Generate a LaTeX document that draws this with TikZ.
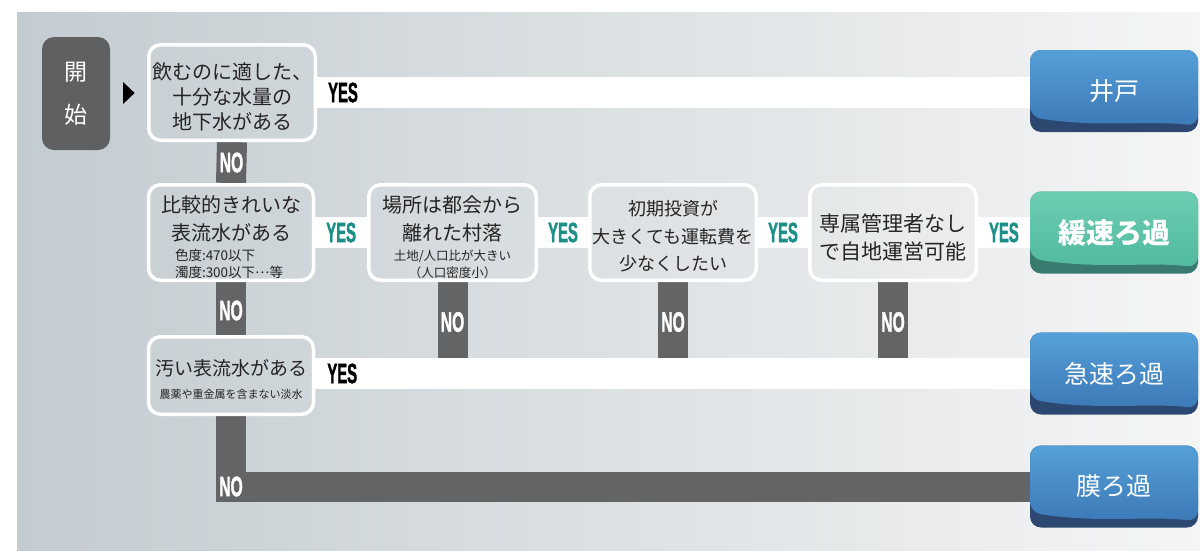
\documentclass[tikz,border=0pt]{standalone}
\usepackage{fontspec}
\usepackage{graphicx}
\setmainfont{Noto Sans CJK JP}
\newfontfamily\latinb{Liberation Sans}[BoldFeatures={FakeBold=2}]
\usetikzlibrary{calc}
\definecolor{txt}{HTML}{262324}
\definecolor{nogray}{HTML}{636466}
\definecolor{yesteal}{HTML}{1B8F88}
\definecolor{panelL}{HTML}{C3CCD1}
\definecolor{panelR}{HTML}{F5F5F5}
\definecolor{startgray}{HTML}{5F6062}
\definecolor{bluetop}{HTML}{55A0D8}
\definecolor{bluebot}{HTML}{3A76B5}
\definecolor{bluedark}{HTML}{2D4870}
\definecolor{greentop}{HTML}{6DCDB3}
\definecolor{greenbot}{HTML}{4FB89D}
\definecolor{greendark}{HTML}{3A7A70}
\newcommand\fs[2]{\fontsize{#1}{#2}\selectfont}
\newcommand\tp{\rule{0pt}{1.3em}}
\newcommand\yeslbl[1]{{\color{#1}\fs{28}{28}\latinb\bfseries\scalebox{0.53}[1]{YES}}}
\newcommand\nolbl{{\color{white}\fs{28}{28}\latinb\bfseries\scalebox{0.56}[1]{NO}}}
\pgfdeclarelayer{back}
\pgfdeclarelayer{bg}
\pgfsetlayers{back,bg,main}
\tikzset{
  q/.style={draw=white, line width=3.5pt, rounded corners=12pt, align=center,
    text=txt, inner sep=0pt},
  startbox/.style={fill=startgray, rounded corners=12pt, minimum width=68pt,
    minimum height=113pt, inner sep=0pt, text=white, align=center,
    font=\fs{23}{43}},
  result/.style={minimum width=168pt, minimum height=82pt, rounded corners=11pt,
    inner sep=0pt, text=white},
  bluebox/.style={result, fill=bluedark, font=\fs{25}{25}, path picture={
    \shade[top color=bluetop, bottom color=bluebot]
      (path picture bounding box.north west)
      -- ($(path picture bounding box.south west)+(0,-15)$)
      .. controls ($(path picture bounding box.south west)+(70,-4)$)
      and ($(path picture bounding box.south east)+(-50,-12)$)
      .. ($(path picture bounding box.south east)+(0,-6)$)
      -- (path picture bounding box.north east) -- cycle;}},
  greenbox/.style={result, fill=greendark, font=\fs{28}{28}\bfseries, path picture={
    \shade[top color=greentop, bottom color=greenbot]
      (path picture bounding box.north west)
      -- ($(path picture bounding box.south west)+(0,-15)$)
      .. controls ($(path picture bounding box.south west)+(70,-4)$)
      and ($(path picture bounding box.south east)+(-50,-12)$)
      .. ($(path picture bounding box.south east)+(0,-6)$)
      -- (path picture bounding box.north east) -- cycle;}},
  yesband/.style={draw=white, line width=31pt},
  nobar/.style={draw=nogray, line width=30pt, line join=miter},
}
\begin{document}
\begin{tikzpicture}[x=1pt,y=-1pt]
\useasboundingbox (0,0) rectangle (1200,550);
\begin{pgfonlayer}{back}
\fill[white] (0,0) rectangle (1200,550);
\shade[left color=panelL, right color=panelR] (17,12) rectangle (1200,550);
\end{pgfonlayer}

% start
\node[startbox] (start) at (76,93.5) {開\\始};

% questions
\node[q, minimum width=166.5pt, minimum height=95.5pt, font=\fs{20}{25}] (n1) at (232,92.5)
  {\tp 飲むのに適した、\\十分な水量の\\地下水がある};
\node[q, minimum width=165pt, minimum height=95.5pt, font=\fs{20}{28}] (n2) at (231,232.5)
  {\tp 比較的きれいな\\表流水がある\\[-7.5pt]{\fs{13.5}{17}\makebox[112pt][l]{色度:470以下}}\\[-11pt]{\fs{13.5}{17}\makebox[112pt][l]{濁度:300以下\raisebox{0.32em}{…}等}}};
\node[q, minimum width=167.5pt, minimum height=95.5pt, font=\fs{20}{28}] (n3) at (452.5,232.5)
  {\tp 場所は都会から\\離れた村落\\[-7.5pt]{\fs{12.5}{17}土地/人口比が大きい}\\[-11pt]{\fs{12.5}{17}（人口密度小）}};
\node[q, minimum width=166.5pt, minimum height=95.5pt, font=\fs{18}{27.5}] (n4) at (673,232.5)
  {\tp 初期投資が\\大きくても運転費を\\少なくしたい};
\node[q, minimum width=166.5pt, minimum height=95.5pt, font=\fs{21}{28}] (n5) at (893,232.5)
  {\tp 専属管理者なし\\で自地運営可能};
\node[q, minimum width=165pt, minimum height=77.5pt, font=\fs{19}{26}] (n6) at (231,375.5)
  {\tp 汚い表流水がある\\[-3pt]{\fs{11}{15}農薬や重金属を含まない淡水}};

% results
\node[bluebox] (well) at (1114,91) {井戸};
\node[greenbox] (slow) at (1114,232.5) {緩速ろ過};
\node[bluebox] (rapid) at (1114,373.5) {急速ろ過};
\node[bluebox] (membrane) at (1114,486.5) {膜ろ過};

% start arrow
\path (start.east) -- (n1.west) coordinate[midway] (tri);
\fill[black] ($(tri)+(-5.5,-11)$) -- ($(tri)+(6,0)$) -- ($(tri)+(-5.5,11)$) -- cycle;

\coordinate (band3top) at ($(rapid.west)+(0,-15.5)$);

\begin{pgfonlayer}{bg}
% YES bands
\draw[yesband] (n1.east) -- (n1.east -| well.west)
  node[pos=0, xshift=26pt, inner sep=0pt] {\yeslbl{black}};
\draw[yesband] (n2.east) -- (n3.west) node[midway] {\yeslbl{yesteal}};
\draw[yesband] (n3.east) -- (n4.west) node[midway] {\yeslbl{yesteal}};
\draw[yesband] (n4.east) -- (n5.west) node[midway] {\yeslbl{yesteal}};
\draw[yesband] (n5.east) -- (slow.west) node[midway] {\yeslbl{yesteal}};
\draw[yesband] (n6.east |- rapid.west) -- (rapid.west)
  node[pos=0, xshift=27pt, inner sep=0pt] {\yeslbl{black}};
% NO bars
\draw[nobar] (n1.south) -- (n2.north) node[midway] {\nolbl};
\draw[nobar] (n2.south) -- (n6.north) node[midway, yshift=-2pt] {\nolbl};
\draw[nobar] (n3.south) -- (n3.south |- band3top) node[midway, yshift=-2pt] {\nolbl};
\draw[nobar] (n4.south) -- (n4.south |- band3top) node[midway, yshift=-2pt] {\nolbl};
\draw[nobar] (n5.south) -- (n5.south |- band3top) node[midway, yshift=-2pt] {\nolbl};
\draw[nobar] (n6.south) -- (n6.south |- membrane.west) node[pos=1] {\nolbl} -- (membrane.west);
\end{pgfonlayer}
\end{tikzpicture}
\end{document}
